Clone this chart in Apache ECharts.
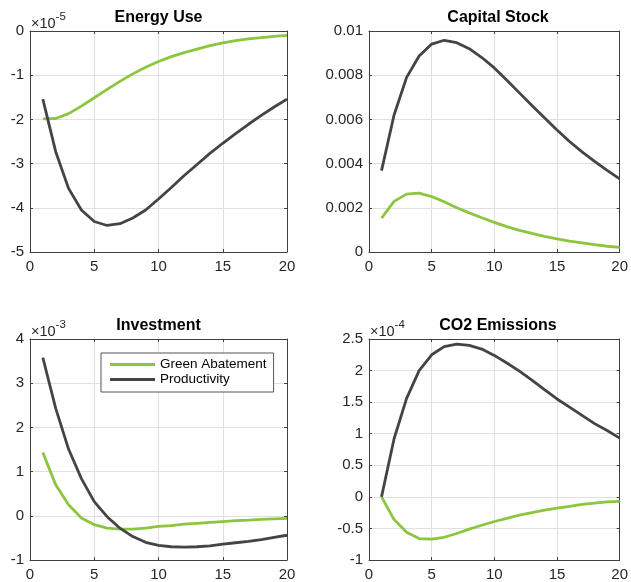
<!DOCTYPE html>
<html>
<head>
<meta charset="utf-8">
<script src="https://cdn.jsdelivr.net/npm/echarts@6/dist/echarts.min.js"></script>
<style>
  html, body { margin: 0; padding: 0; background: #fff; }
  #chart { width: 631px; height: 582px; }
</style>
</head>
<body>
<div id="chart"></div>
<script>
// Periods after the shock
const periods = [1,2,3,4,5,6,7,8,9,10,11,12,13,14,15,16,17,18,19,20];

// Energy Use (units of 1e-5)
const energyGreen = [-1.99,-1.98,-1.87,-1.70,-1.51,-1.32,-1.14,-0.97,-0.82,-0.69,-0.58,-0.49,-0.41,-0.33,-0.27,-0.22,-0.18,-0.15,-0.12,-0.10];
const energyProd  = [-1.54,-2.73,-3.56,-4.05,-4.31,-4.40,-4.36,-4.23,-4.05,-3.80,-3.54,-3.27,-3.02,-2.77,-2.54,-2.32,-2.11,-1.91,-1.72,-1.54];

// Capital Stock
const capitalGreen = [0.00153,0.00229,0.00262,0.00266,0.00251,0.00227,0.00200,0.00177,0.00155,0.00134,0.00115,0.00098,0.00084,0.00071,0.00059,0.00049,0.00041,0.00033,0.00026,0.00021];
const capitalProd  = [0.00368,0.00620,0.00790,0.00887,0.00941,0.00958,0.00947,0.00920,0.00880,0.00833,0.00777,0.00720,0.00663,0.00607,0.00552,0.00500,0.00453,0.00410,0.00369,0.00331];

// Investment (units of 1e-3)
const investGreen = [1.43,0.70,0.25,-0.05,-0.20,-0.28,-0.30,-0.30,-0.28,-0.24,-0.22,-0.19,-0.17,-0.15,-0.13,-0.11,-0.10,-0.08,-0.07,-0.06];
const investProd  = [3.58,2.43,1.51,0.84,0.32,-0.02,-0.28,-0.47,-0.60,-0.67,-0.70,-0.71,-0.70,-0.68,-0.64,-0.61,-0.58,-0.54,-0.49,-0.44];

// CO2 Emissions (units of 1e-4)
const co2Green = [0,-0.36,-0.56,-0.66,-0.67,-0.64,-0.58,-0.51,-0.45,-0.39,-0.34,-0.29,-0.25,-0.21,-0.18,-0.15,-0.12,-0.10,-0.08,-0.07];
const co2Prod  = [0,0.92,1.56,2.00,2.25,2.38,2.42,2.40,2.34,2.24,2.12,1.99,1.85,1.70,1.55,1.42,1.29,1.16,1.05,0.93];

const panelTitles = ['Energy Use', 'Capital Stock', 'Investment', 'CO2 Emissions'];
const panelExponents = ['-5', null, '-3', '-4'];
const yRanges = [[-5, 0, 1], [0, 0.01, 0.002], [-1, 4, 1], [-1, 2.5, 0.5]];
const xTicks = [0, 20, 5];
const seriesNames = ['Green Abatement', 'Productivity'];

const panelData = [
  [energyGreen, energyProd],
  [capitalGreen, capitalProd],
  [investGreen, investProd],
  [co2Green, co2Prod]
];

const FONT = '"Liberation Sans", Helvetica, Arial, sans-serif';
const TEXT = '#262626';
const AXIS = '#404040';
const GRIDLINE = '#e0e0e0';
const COLORS = ['#8cc63e', '#444444'];

const grids = [
  { left: 30,  top: 31,  width: 257, height: 221 },
  { left: 369, top: 31,  width: 258, height: 221 },
  { left: 30,  top: 339, width: 257, height: 221 },
  { left: 369, top: 339, width: 258, height: 221 }
];

const fmt = v => String(parseFloat(Number(v).toPrecision(6)));

const xAxes = [], yAxes = [], series = [], titles = [];

grids.forEach((g, i) => {
  const [ymin, ymax, yint] = yRanges[i];
  // bottom x axis with labels
  xAxes.push({
    gridIndex: i, type: 'value', position: 'bottom',
    min: xTicks[0], max: xTicks[1], interval: xTicks[2],
    axisLine: { show: true, onZero: false, lineStyle: { color: AXIS, width: 1 } },
    axisTick: { show: true, inside: true, length: 3, lineStyle: { color: AXIS } },
    axisLabel: { show: true, margin: 7, color: TEXT, fontSize: 15, fontFamily: FONT, formatter: fmt },
    splitLine: { show: true, lineStyle: { color: GRIDLINE, width: 1 } }
  });
  // left y axis with labels
  const yAx = {
    gridIndex: i, type: 'value', position: 'left',
    min: ymin, max: ymax, interval: yint,
    axisLine: { show: true, onZero: false, lineStyle: { color: AXIS, width: 1 } },
    axisTick: { show: true, inside: true, length: 3, lineStyle: { color: AXIS } },
    axisLabel: { show: true, margin: 6, color: TEXT, fontSize: 15, fontFamily: FONT, formatter: fmt },
    splitLine: { show: true, lineStyle: { color: GRIDLINE, width: 1 } }
  };
  if (panelExponents[i]) {
    // axis multiplier shown above the axis, with a raised exponent
    yAx.name = '{a|×10}{b|' + panelExponents[i] + '}';
    yAx.nameLocation = 'end';
    yAx.nameGap = 0;
    yAx.nameTextStyle = {
      align: 'left', verticalAlign: 'bottom', padding: [0, 0, 0, 1],
      rich: {
        a: { fontSize: 14.5, fontFamily: FONT, color: TEXT, lineHeight: 15, verticalAlign: 'bottom' },
        b: { fontSize: 11.5, fontFamily: FONT, color: TEXT, lineHeight: 12, verticalAlign: 'bottom', padding: [0, 0, 8, 0] }
      }
    };
  }
  yAxes.push(yAx);

  titles.push({
    text: panelTitles[i],
    left: g.left + g.width / 2,
    top: g.top - 21,
    textAlign: 'center',
    padding: 0,
    textStyle: { fontSize: 16, fontWeight: 'bold', color: '#000', fontFamily: FONT }
  });

  panelData[i].forEach((vals, k) => {
    series.push({
      name: seriesNames[k],
      type: 'line',
      xAxisIndex: i, yAxisIndex: i,
      data: periods.map((t, j) => [t, vals[j]]),
      symbol: 'none',
      smooth: false,
      lineStyle: { color: COLORS[k], width: 2.8 },
      itemStyle: { color: COLORS[k] },
      z: 3 + k,
      silent: true
    });
  });
});

// top and right frame axes carrying the inner ticks
grids.forEach((g, i) => {
  const [ymin, ymax, yint] = yRanges[i];
  xAxes.push({
    gridIndex: i, type: 'value', position: 'top',
    min: xTicks[0], max: xTicks[1], interval: xTicks[2],
    axisLine: { show: true, onZero: false, lineStyle: { color: AXIS, width: 1 } },
    axisTick: { show: true, inside: true, length: 3, lineStyle: { color: AXIS } },
    axisLabel: { show: false }, splitLine: { show: false }
  });
  yAxes.push({
    gridIndex: i, type: 'value', position: 'right',
    min: ymin, max: ymax, interval: yint,
    axisLine: { show: true, onZero: false, lineStyle: { color: AXIS, width: 1 } },
    axisTick: { show: true, inside: true, length: 3, lineStyle: { color: AXIS } },
    axisLabel: { show: false }, splitLine: { show: false }
  });
});

const chart = echarts.init(document.getElementById('chart'), null, { renderer: 'canvas' });
chart.setOption({
  animation: false,
  backgroundColor: '#fff',
  title: titles,
  grid: grids,
  xAxis: xAxes,
  yAxis: yAxes,
  legend: {
    data: seriesNames,
    orient: 'vertical',
    left: 101, top: 353,
    padding: [4, 7, 5, 9],
    itemGap: 0,
    icon: 'rect',
    itemWidth: 45,
    itemHeight: 3,
    backgroundColor: '#fff',
    borderColor: '#555',
    borderWidth: 1,
    textStyle: { fontSize: 13.5, lineHeight: 15, color: '#000', fontFamily: FONT },
    selectedMode: false
  },
  series: series
});
</script>
</body>
</html>
